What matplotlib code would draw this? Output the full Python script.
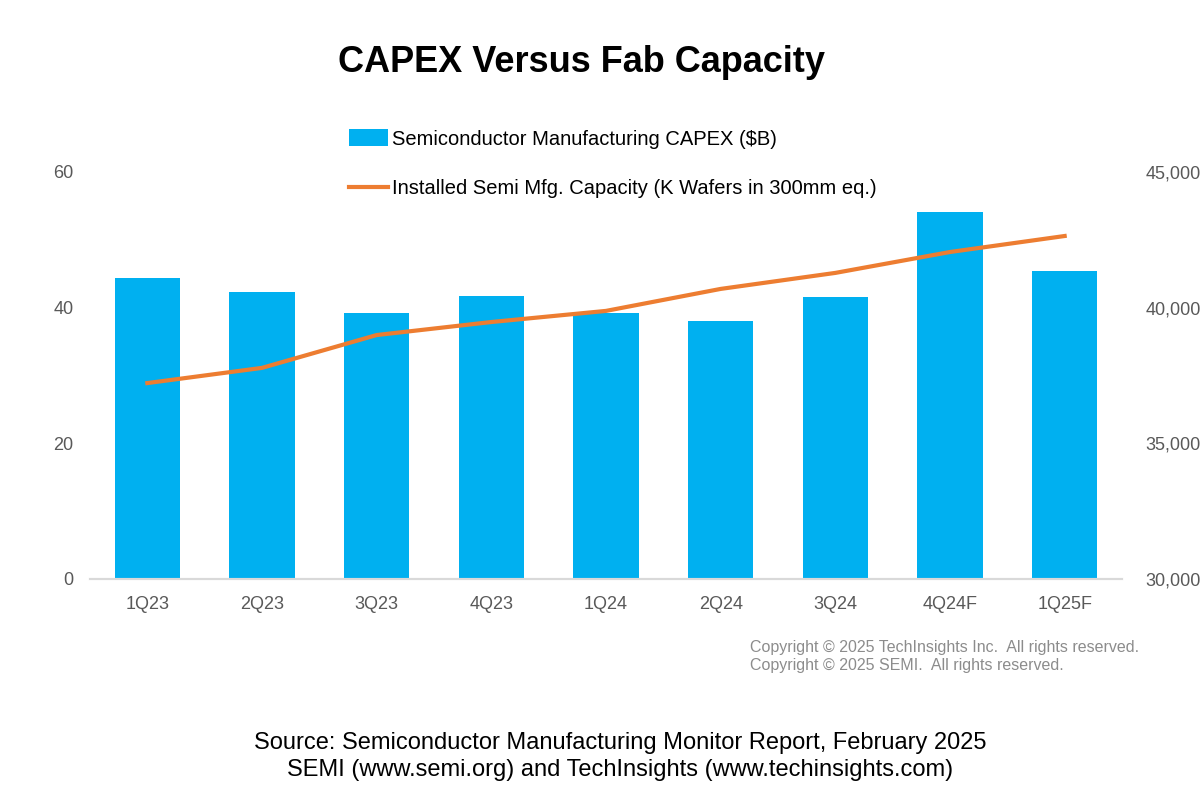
import matplotlib.pyplot as plt
from matplotlib.ticker import FuncFormatter

plt.rcParams['font.family'] = ['Liberation Sans', 'DejaVu Sans']

# data
quarters = ['1Q23', '2Q23', '3Q23', '4Q23', '1Q24', '2Q24', '3Q24', '4Q24F', '1Q25F']
capex = [44.4, 42.3, 39.2, 41.7, 39.2, 38.0, 41.6, 54.1, 45.4]
capacity = [37220, 37780, 38990, 39470, 39880, 40690, 41280, 42050, 42640]

bar_color = '#00B0F0'
line_color = '#ED7D31'
tick_color = '#595959'

fig = plt.figure(figsize=(12, 7.95), dpi=100)
ax = fig.add_axes([0.075, 0.2717, 0.86, 0.512])
ax2 = ax.twinx()

x = range(len(quarters))
bars = ax.bar(x, capex, width=0.57, color=bar_color,
              label='Semiconductor Manufacturing CAPEX ($B)', zorder=2)
line, = ax2.plot(x, capacity, color=line_color, lw=3,
                 label='Installed Semi Mfg. Capacity (K Wafers in 300mm eq.)', zorder=3)

ax.set_xlim(-0.5, len(quarters) - 0.5)
ax.set_ylim(0, 60)
ax.set_yticks([0, 20, 40, 60])
ax2.set_ylim(30000, 45000)
ax2.set_yticks([30000, 35000, 40000, 45000])
ax2.yaxis.set_major_formatter(FuncFormatter(lambda v, p: f'{int(v):,}'))

ax.set_xticks(list(x))
ax.set_xticklabels(quarters)

for a in (ax, ax2):
    for s in ('top', 'left', 'right'):
        a.spines[s].set_visible(False)
    a.spines['bottom'].set_color('#D9D9D9')
    a.spines['bottom'].set_linewidth(1.5)
    a.tick_params(length=0, labelsize=13, colors=tick_color)
ax.tick_params(axis='y', pad=12)
ax2.tick_params(axis='y', pad=17)
ax.tick_params(axis='x', pad=12)

ax.set_zorder(ax2.get_zorder() - 1)
ax2.patch.set_visible(False)

fig.legend(handles=[bars, line], loc='upper left', bbox_to_anchor=(0.276, 0.86),
           frameon=False, fontsize=14.5, handlelength=1.9, handletextpad=0.2,
           labelspacing=1.5, handleheight=0.9)

fig.text(0.485, 0.922, 'CAPEX Versus Fab Capacity', ha='center', va='center',
         fontsize=26, fontweight='bold')

fig.text(0.625, 0.185, 'Copyright \u00a9 2025 TechInsights Inc.  All rights reserved.',
         fontsize=11.5, color='#8C8C8C', va='center')
fig.text(0.625, 0.163, 'Copyright \u00a9 2025 SEMI.  All rights reserved.',
         fontsize=11.5, color='#8C8C8C', va='center')

fig.text(0.517, 0.048, 'Source: Semiconductor Manufacturing Monitor Report, February 2025\n'
         'SEMI (www.semi.org) and TechInsights (www.techinsights.com)',
         ha='center', va='center', fontsize=17, linespacing=1.3)

fig.savefig('out.png', dpi=100)
